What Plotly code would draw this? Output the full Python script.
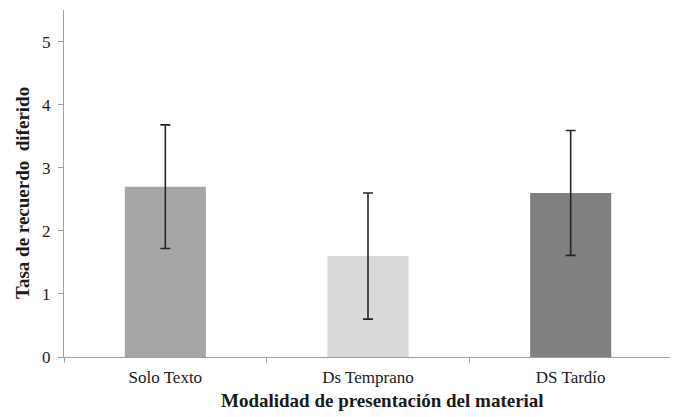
import plotly.graph_objects as go

categories = ["Solo Texto", "Ds Temprano", "DS Tardío"]
means = [2.7, 1.6, 2.6]
errors = [0.98, 1.0, 0.99]
colors = ["#a6a6a6", "#d9d9d9", "#808080"]
y_ticks = [0, 1, 2, 3, 4, 5]

# the page body adds an 8px margin, so the figure is shifted accordingly
OFF = 8
W, H = 678 - OFF, 417 - OFF
L, R, T, B = 64 - OFF, 6, 10 - OFF, 60
FONT = "Liberation Serif"

fig = go.Figure()
fig.add_trace(go.Bar(
    x=categories, y=means,
    marker=dict(color=colors, line=dict(width=0)),
    error_y=dict(type="data", array=errors, visible=True,
                 color="#262626", thickness=1.6, width=5),
    showlegend=False,
))

pw = W - L - R
ph = H - T - B

def py(page_y):
    return (H - B - (page_y - OFF)) / ph

def px(page_x):
    return ((page_x - OFF) - L) / pw

fig.update_layout(
    width=W, height=H,
    margin=dict(l=L, r=R, t=T, b=B, pad=0),
    paper_bgcolor="white", plot_bgcolor="white",
    bargap=0.6,
    font=dict(family=FONT, size=17, color="#1a1a1a"),
    xaxis=dict(
        showline=True, linecolor="#a0a0a0", linewidth=1,
        ticks="outside", ticklen=5, tickcolor="#a0a0a0",
        tickson="boundaries", showgrid=False, zeroline=False,
        ticklabelstandoff=5,
        tickfont=dict(family=FONT, size=17, color="#1a1a1a"),
    ),
    yaxis=dict(
        range=[0, 5.5], tickvals=y_ticks,
        showline=True, linecolor="#a0a0a0", linewidth=1,
        ticks="outside", ticklen=5, tickcolor="#a0a0a0",
        ticklabelstandoff=4,
        showgrid=False, zeroline=False,
        tickfont=dict(family=FONT, size=17, color="#1a1a1a"),
    ),
    annotations=[
        dict(text="<b>Tasa de recuerdo  diferido</b>", xref="paper", yref="paper",
             x=px(23), y=py(193), textangle=-90,
             showarrow=False, xanchor="center", yanchor="middle",
             font=dict(family=FONT, size=19, color="#1a1a1a")),
        dict(text="<b>Modalidad de presentación del material</b>", xref="paper", yref="paper",
             x=px(382), y=py(400),
             showarrow=False, xanchor="center", yanchor="middle",
             font=dict(family=FONT, size=19, color="#1a1a1a")),
    ],
)

fig.write_html("out.html")
